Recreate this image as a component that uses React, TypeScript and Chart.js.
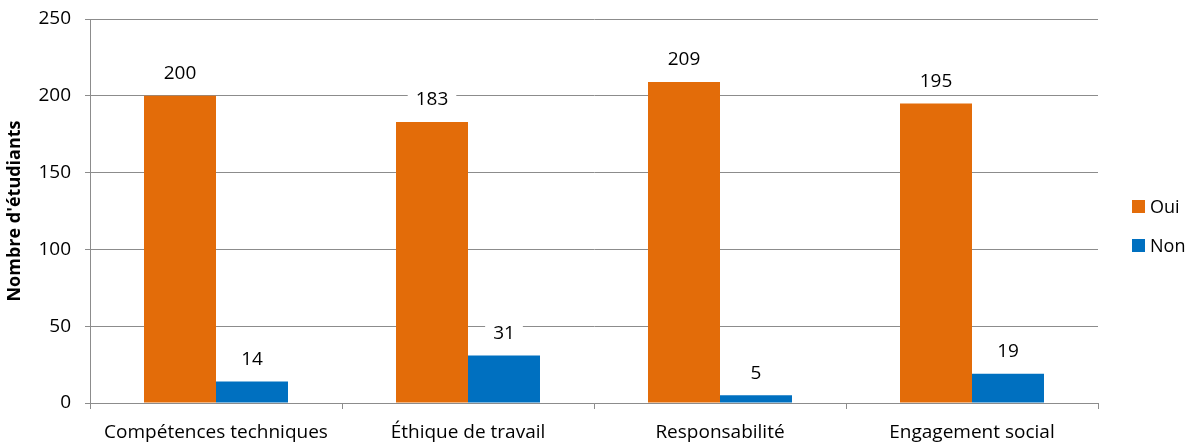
import React, { useEffect, useRef } from "react";
import { Chart, registerables } from "chart.js";

Chart.register(...registerables);

const categories = ["Compétences techniques", "Éthique de travail", "Responsabilité", "Engagement social"];
const ouiValues = [200, 183, 209, 195];
const nonValues = [14, 31, 5, 19];
const seriesNames = ["Oui", "Non"];
const seriesColors = ["#E36C09", "#0070C0"];
const yTitle = "Nombre d'étudiants";

const FONT = "'Open Sans', sans-serif";

const labelPlugin = {
  id: "valueLabels",
  afterDatasetsDraw(chart: any) {
    const ctx = chart.ctx;
    ctx.save();
    ctx.font = `19px ${FONT}`;
    ctx.textAlign = "center";
    ctx.textBaseline = "middle";
    chart.data.datasets.forEach((ds: any, di: number) => {
      const meta = chart.getDatasetMeta(di);
      meta.data.forEach((el: any, i: number) => {
        const txt = String(ds.data[i]);
        const cx = el.x;
        const cy = el.y - 23;
        const w = ctx.measureText(txt).width + 16;
        ctx.fillStyle = "#ffffff";
        ctx.fillRect(cx - w / 2, cy - 12, w, 24);
        ctx.fillStyle = "#000000";
        ctx.fillText(txt, cx, cy + 1);
      });
    });
    ctx.restore();
  },
};

const legendPlugin = {
  id: "sideLegend",
  afterDraw(chart: any) {
    const ctx = chart.ctx;
    ctx.save();
    ctx.font = `18px ${FONT}`;
    ctx.textAlign = "left";
    ctx.textBaseline = "middle";
    const ys = [206.5, 245.5];
    chart.data.datasets.forEach((ds: any, i: number) => {
      const y = ys[i];
      ctx.fillStyle = ds.backgroundColor;
      ctx.fillRect(1132, y - 6.5, 13, 13);
      ctx.fillStyle = "#000000";
      ctx.fillText(ds.label, 1150, y + 1);
    });
    ctx.restore();
  },
};

export default function App() {
  const ref = useRef<HTMLCanvasElement | null>(null);
  useEffect(() => {
    if (!ref.current) return;
    const chart = new Chart(ref.current, {
      type: "bar",
      data: {
        labels: categories,
        datasets: [
          { label: seriesNames[0], data: ouiValues, backgroundColor: seriesColors[0] },
          { label: seriesNames[1], data: nonValues, backgroundColor: seriesColors[1] },
        ],
      },
      options: {
        animation: false,
        responsive: true,
        maintainAspectRatio: false,
        layout: { padding: { top: 19, right: 90, left: 0, bottom: 0 } },
        plugins: { legend: { display: false }, tooltip: { enabled: false } },
        datasets: { bar: { categoryPercentage: 0.5714, barPercentage: 1 } },
        scales: {
          x: {
            afterFit: (s: any) => { s.height = 39; s.paddingLeft = 0; s.paddingRight = 0; },
            grid: { display: true, drawOnChartArea: false, drawTicks: true, tickLength: 6, color: "#8c8c8c", offset: true },
            border: { display: true, color: "#8c8c8c", width: 1 },
            ticks: { color: "#000000", font: { family: FONT, size: 19 }, padding: 12, maxRotation: 0 },
          },
          y: {
            min: 0,
            max: 250,
            afterFit: (s: any) => { s.width = 90; s.paddingTop = 0; s.paddingBottom = 0; },
            grid: { color: "#8c8c8c", tickLength: 5, drawTicks: true },
            border: { display: true, color: "#8c8c8c", width: 1 },
            ticks: { stepSize: 50, color: "#000000", font: { family: FONT, size: 19 }, padding: 14 },
            title: { display: true, text: yTitle, color: "#000000", font: { family: FONT, size: 18, weight: "bold" }, padding: { top: 4, bottom: 0 } },
          },
        },
      },
      plugins: [labelPlugin, legendPlugin],
    });
    return () => chart.destroy();
  }, []);
  return (
    <div style={{ position: "absolute", left: 0, top: 0, width: 1188, height: 442, background: "#fff" }}>
      <canvas ref={ref} />
    </div>
  );
}
